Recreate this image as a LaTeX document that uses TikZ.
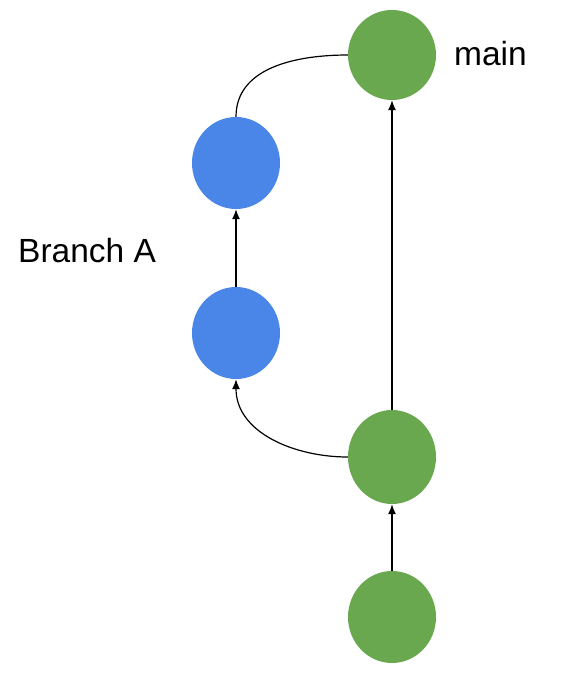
\documentclass[tikz,border=0pt]{standalone}
\usepackage{fontspec}
\setmainfont{Liberation Sans}
\usetikzlibrary{shapes.geometric,arrows.meta}
\definecolor{cgreen}{HTML}{6AA84F}
\definecolor{cblue}{HTML}{4A86E8}
\begin{document}
\begin{tikzpicture}[x=1pt,y=-1pt,
  commit/.style={ellipse,minimum width=88pt,minimum height=92pt,inner sep=0pt,draw=none},
  gcommit/.style={commit,fill=cgreen},
  bcommit/.style={commit,fill=cblue},
  link/.style={line width=1.2pt,draw=black},
  arr/.style={link,-{Latex[length=10pt,width=8pt]}},
  lbl/.style={font=\fontsize{33.5}{38}\selectfont,inner sep=0pt,anchor=base west}]
\useasboundingbox (0,0) rectangle (588,673);
\node[gcommit,minimum height=90pt] (main) at (392,55) {};
\node[bcommit] (b2) at (236,163) {};
\node[bcommit] (b1) at (236,333) {};
\node[gcommit,minimum height=94pt] (g2) at (392,457) {};
\node[gcommit,minimum height=92pt] (g1) at (392,617) {};
\draw[arr] (g1) -- (g2);
\draw[arr] (g2) -- (main);
\draw[arr] (b1) -- (b2);
\draw[arr] (g2.west) to[out=180,in=-90] (b1.south);
\draw[link] (b2.north) to[out=90,in=180] (main.west);
\node[lbl] (lmain) at (454,65) {main};
\node[lbl] (lbranch) at (18,262) {Branch A};
\end{tikzpicture}
\end{document}
